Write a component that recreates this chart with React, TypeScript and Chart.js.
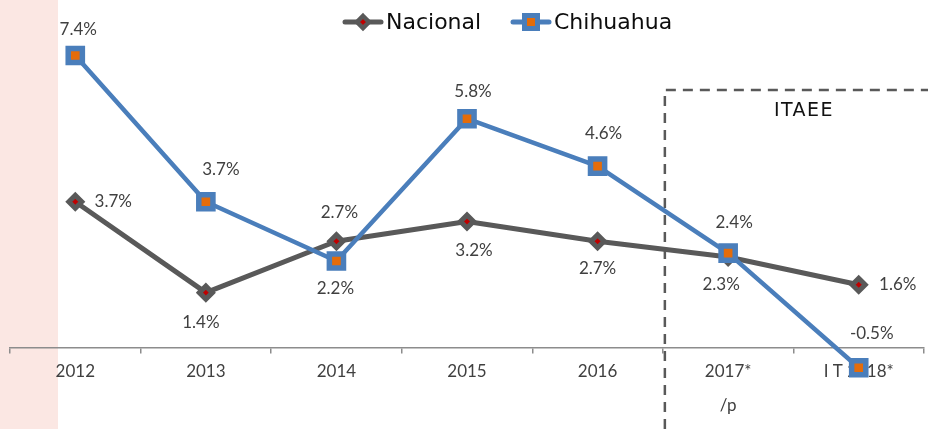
import React, { useEffect, useRef } from 'react';
import { Chart, registerables } from 'chart.js';

Chart.register(...registerables);

// ---- Data ----
const categories: string[] = ['2012', '2013', '2014', '2015', '2016', '2017*', 'I T 2018*'];
const tickLabels: (string | string[])[] = ['2012', '2013', '2014', '2015', '2016', ['2017*', '', '/p'], 'I T 2018*'];
const nacional: number[] = [3.7, 1.4, 2.7, 3.2, 2.7, 2.3, 1.6];
const chihuahua: number[] = [7.4, 3.7, 2.2, 5.8, 4.6, 2.4, -0.5];
const seriesNames: string[] = ['Nacional', 'Chihuahua'];
const boxTitle = 'ITAEE';
const boxStartIndex = 5; // ITAEE box begins between 2016 and 2017*

// ---- Styles ----
const GRAY = '#595959';
const RED = '#C00000';
const BLUE = '#4A7EBB';
const ORANGE = '#E46C0A';
const TEXT = '#404040';

// label offsets [dx, dy] relative to point (per series, per point)
const nacionalLabelOffsets: [number, number][] = [[38, 0], [-5, 30], [3, -29], [7, 29], [0, 27], [-7, 27], [39, 0]];
const chihuahuaLabelOffsets: [number, number][] = [[3, -26], [15, -32], [-1, 28], [6, -27], [6, -33], [6, -31], [13, -34]];

function drawDiamond(ctx: CanvasRenderingContext2D, x: number, y: number, r: number) {
  ctx.beginPath();
  ctx.moveTo(x, y - r);
  ctx.lineTo(x + r, y);
  ctx.lineTo(x, y + r);
  ctx.lineTo(x - r, y);
  ctx.closePath();
}

const backgroundPlugin = {
  id: 'bgStrip',
  beforeDraw(chart: any) {
    const ctx = chart.ctx as CanvasRenderingContext2D;
    ctx.save();
    ctx.fillStyle = '#FFFFFF';
    ctx.fillRect(0, 0, chart.width, chart.height);
    ctx.fillStyle = '#FBE7E3';
    ctx.fillRect(0, 0, 58, chart.height);
    ctx.restore();
  },
};

const boxPlugin = {
  id: 'itaeeBox',
  beforeDatasetsDraw(chart: any) {
    const ctx = chart.ctx as CanvasRenderingContext2D;
    const xs = chart.scales.x;
    const x0 = (xs.getPixelForValue(boxStartIndex - 1) + xs.getPixelForValue(boxStartIndex)) / 2 + 2;
    const yTop = 90;
    ctx.save();
    ctx.strokeStyle = GRAY;
    ctx.lineWidth = 2.5;
    ctx.setLineDash([10, 7]);
    ctx.beginPath();
    ctx.moveTo(x0, chart.height);
    ctx.lineTo(x0, yTop);
    ctx.lineTo(chart.width, yTop);
    ctx.stroke();
    ctx.setLineDash([]);
    ctx.fillStyle = '#111111';
    ctx.font = '19px "DejaVu Sans"';
    (ctx as any).letterSpacing = '1.5px';
    ctx.textAlign = 'center';
    ctx.textBaseline = 'middle';
    ctx.fillText(boxTitle, 804, 111);
    ctx.restore();
  },
};

const labelPlugin = {
  id: 'valueLabels',
  afterDatasetsDraw(chart: any) {
    const ctx = chart.ctx as CanvasRenderingContext2D;
    ctx.save();
    ctx.font = '17px Lato';
    ctx.fillStyle = TEXT;
    ctx.textAlign = 'center';
    ctx.textBaseline = 'middle';
    const offsets = [nacionalLabelOffsets, chihuahuaLabelOffsets];
    chart.data.datasets.forEach((ds: any, i: number) => {
      const meta = chart.getDatasetMeta(i);
      meta.data.forEach((pt: any, j: number) => {
        const v = ds.data[j] as number;
        const [dx, dy] = offsets[i][j];
        ctx.fillText(v.toFixed(1) + '%', pt.x + dx, pt.y + dy);
      });
    });
    ctx.restore();
  },
};

const legendPlugin = {
  id: 'customLegend',
  afterDraw(chart: any) {
    const ctx = chart.ctx as CanvasRenderingContext2D;
    const y = 22;
    ctx.save();
    ctx.lineCap = 'round';
    // Nacional
    ctx.strokeStyle = GRAY;
    ctx.lineWidth = 5;
    ctx.beginPath();
    ctx.moveTo(345, y);
    ctx.lineTo(381, y);
    ctx.stroke();
    drawDiamond(ctx, 363, y, 6);
    ctx.fillStyle = RED;
    ctx.fill();
    ctx.lineWidth = 4.5;
    ctx.lineJoin = 'miter';
    ctx.stroke();
    // Chihuahua
    ctx.strokeStyle = BLUE;
    ctx.lineWidth = 5;
    ctx.beginPath();
    ctx.moveTo(513, y);
    ctx.lineTo(549, y);
    ctx.stroke();
    ctx.fillStyle = ORANGE;
    ctx.fillRect(531 - 6.5, y - 6.5, 13, 13);
    ctx.lineWidth = 5;
    ctx.strokeRect(531 - 6.5, y - 6.5, 13, 13);
    // texts
    ctx.fillStyle = '#0D0D0D';
    ctx.font = '22px "DejaVu Sans"';
    ctx.textAlign = 'left';
    ctx.textBaseline = 'middle';
    ctx.fillText(seriesNames[0], 386, y + 1);
    ctx.fillText(seriesNames[1], 554, y + 1);
    ctx.restore();
  },
};

export default function App() {
  const canvasRef = useRef<HTMLCanvasElement | null>(null);

  useEffect(() => {
    document.body.style.margin = '0';
    const canvas = canvasRef.current;
    if (!canvas) return;
    const chart = new Chart(canvas, {
      type: 'line',
      data: {
        labels: categories,
        datasets: [
          {
            label: seriesNames[0],
            data: nacional,
            borderColor: GRAY,
            borderWidth: 5,
            backgroundColor: RED,
            pointStyle: 'rectRot',
            pointRadius: 6.5,
            pointBorderWidth: 5,
            pointBorderColor: GRAY,
            pointBackgroundColor: RED,
            tension: 0,
            borderJoinStyle: 'round',
            borderCapStyle: 'round',
            order: 1,
          },
          {
            label: seriesNames[1],
            data: chihuahua,
            borderColor: BLUE,
            borderWidth: 4.5,
            backgroundColor: ORANGE,
            pointStyle: 'rect',
            pointRadius: 10,
            pointBorderWidth: 5.5,
            pointBorderColor: BLUE,
            pointBackgroundColor: ORANGE,
            tension: 0,
            borderJoinStyle: 'round',
            borderCapStyle: 'round',
            order: 0,
          },
        ],
      },
      options: {
        animation: false,
        responsive: false,
        devicePixelRatio: 1,
        layout: { autoPadding: false, padding: { left: 10, right: 4, top: 10, bottom: 0 } },
        plugins: {
          legend: { display: false },
          tooltip: { enabled: false },
        },
        scales: {
          x: {
            type: 'category',
            position: { y: 0 } as any,
            offset: true,
            afterFit: (s: any) => {
              s.height = 0;
              s.paddingLeft = 0;
              s.paddingRight = 0;
              s.paddingTop = 0;
              s.paddingBottom = 0;
            },
            grid: {
              offset: true,
              drawOnChartArea: false,
              drawTicks: true,
              tickLength: 5,
              color: '#8C8C8C',
              lineWidth: 1.5,
            },
            border: { display: true, color: '#8C8C8C', width: 1.5 },
            ticks: {
              autoSkip: false,
              maxRotation: 0,
              minRotation: 0,
              padding: 10,
              color: TEXT,
              font: { family: 'Lato', size: 17, lineHeight: 1.0 },
              callback: (_v: any, i: number) => tickLabels[i],
            },
          },
          y: {
            display: false,
            min: -2.05,
            max: 8.55,
          },
        },
      },
      plugins: [backgroundPlugin, boxPlugin, labelPlugin, legendPlugin],
    });
    return () => chart.destroy();
  }, []);

  return (
    <div style={{ width: 928, height: 429 }}>
      <canvas ref={canvasRef} width={928} height={429} style={{ display: 'block' }} />
    </div>
  );
}
